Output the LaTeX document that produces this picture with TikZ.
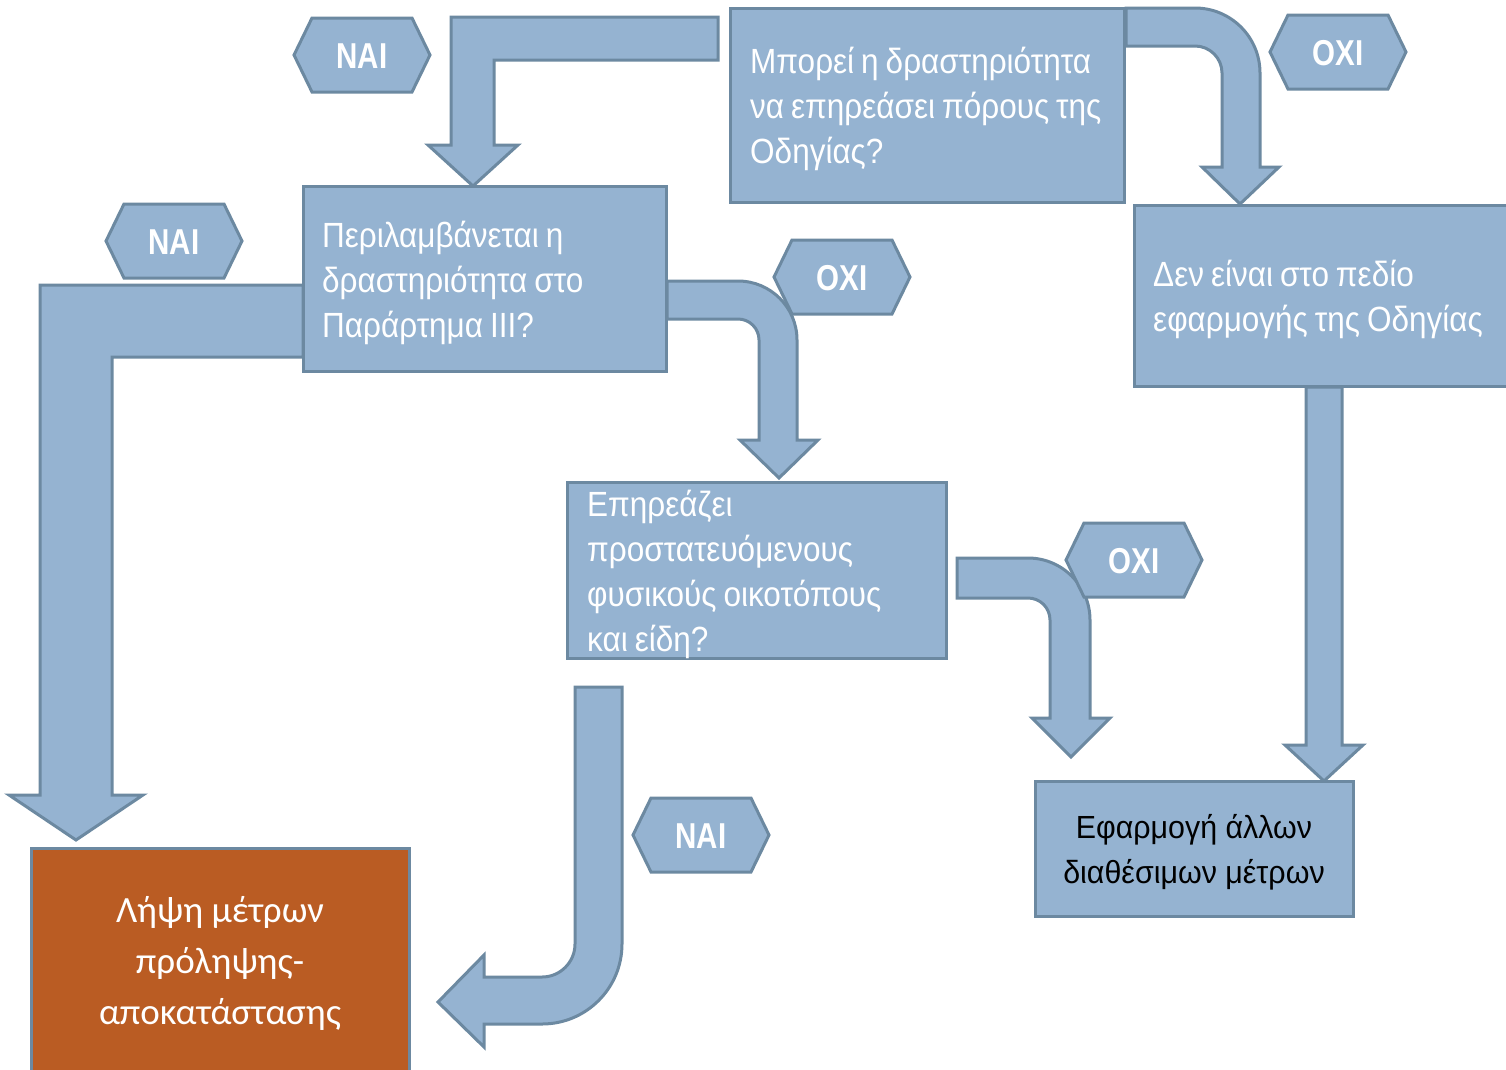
\documentclass[tikz,border=0pt]{standalone}
\usepackage{fontspec}
\setmainfont{Liberation Sans}
\newfontfamily\narrowfont[FakeStretch=0.9,WordSpace=0.8]{Liberation Sans}
\newfontfamily\endfont[FakeStretch=0.95]{Liberation Sans}
\newfontfamily\labfont[FakeStretch=0.82]{Liberation Sans}
\newfontfamily\calfont{Carlito}
\definecolor{blfill}{RGB}{149,179,209}
\definecolor{blline}{RGB}{108,137,161}
\definecolor{orfill}{RGB}{186,92,35}
\newcommand\hexlab[4]{%
  \path[hexshape] (#2-68,#3) -- (#2-50,#3-37) -- (#2+50,#3-37) -- (#2+68,#3) -- (#2+50,#3+37) -- (#2-50,#3+37) -- cycle;
  \node[lab] (#1) at (#2,#3) {#4};}
\begin{document}
\begin{tikzpicture}[x=1pt,y=-1pt,
  blockarrow/.style={fill=blfill,draw=blline,line width=3pt},
  hexshape/.style={fill=blfill,draw=blline,line width=3pt},
  lab/.style={inner sep=0pt,text height=26pt,text depth=0pt,text=white,font=\labfont\bfseries\fontsize{36}{36}\selectfont},
  box/.style={rectangle,fill=blfill,draw=blline,line width=3pt,inner sep=0pt},
  boxtext/.style={text=white,font=\narrowfont\fontsize{35}{45}\selectfont,align=left,inner sep=0pt,anchor=west},
  endbox/.style={rectangle,fill=blfill,draw=blline,line width=3pt,inner sep=0pt},
  endtext/.style={text=black,font=\endfont\fontsize{32}{45}\selectfont,align=center,inner sep=0pt},
  orbox/.style={rectangle,fill=orfill,draw=blline,line width=3pt,inner sep=0pt},
  ortext/.style={text=white,font=\calfont\fontsize{37}{51}\selectfont,align=center,inner sep=0pt}]
\useasboundingbox (0,0) rectangle (1506,1069);
\fill[white] (0,0) rectangle (1506,1069);

% block arrows
% NAI: box1 -> box2
\path[blockarrow] (718,17) -- (451,17) -- (451,145) -- (428,145) -- (473,186) -- (518,145) -- (494,145) -- (494,60) -- (718,60) -- cycle;
% OXI: box1 -> box4
\path[blockarrow] (1126,8) -- (1195,8) .. controls (1230.9,8) and (1260,37.1) .. (1260,73) -- (1260,167) -- (1279,167) -- (1240,204) -- (1202,167) -- (1222,167) -- (1222,73) .. controls (1222,58.1) and (1209.9,46) .. (1195,46) -- (1126,46) -- cycle;
% NAI: box2 -> orange box
\path[blockarrow] (303,285) -- (40,285) -- (40,795) -- (9,795) -- (76,840) -- (143,795) -- (112,795) -- (112,357) -- (303,357) -- cycle;
% OXI: box2 -> box3
\path[blockarrow] (667,281) -- (738,281) .. controls (770.6,281) and (797,307.4) .. (797,340) -- (797,440) -- (818,440) -- (779,478) -- (740,440) -- (759,440) -- (759,340) .. controls (759,328.4) and (749.6,319) .. (738,319) -- (667,319) -- cycle;
% OXI: box3 -> box5
\path[blockarrow] (957,558) -- (1028,558) .. controls (1062.2,558) and (1090,585.8) .. (1090,620) -- (1090,718) -- (1110,718) -- (1071,757) -- (1032,718) -- (1050,718) -- (1050,620) .. controls (1050,607.8) and (1040.2,598) .. (1028,598) -- (957,598) -- cycle;
% box4 -> box5
\path[blockarrow] (1306,387) -- (1306,745) -- (1285,745) -- (1324,781) -- (1363,745) -- (1342,745) -- (1342,387) -- cycle;
% NAI: box3 -> orange box
\path[blockarrow] (575,687) -- (622,687) -- (622,944) .. controls (622,988.2) and (586.2,1024) .. (542,1024) -- (484,1024) -- (484,1047) -- (438,1002) -- (484,955) -- (484,977) -- (542,977) .. controls (560.2,977) and (575,962.2) .. (575,944) -- cycle;

% boxes
\node[box,minimum width=394pt,minimum height=194pt] (b1) at (927,105) {};
\node[boxtext] (t1) at (750,109) {Μπορεί η δραστηριότητα\\να επηρεάσει πόρους της\\Οδηγίας?};
\node[box,minimum width=363pt,minimum height=185pt] (b2) at (484.5,278.5) {};
\node[boxtext] (t2) at (322,282.5) {Περιλαμβάνεται η\\δραστηριότητα στο\\Παράρτημα ΙΙΙ?};
\node[box,minimum width=379pt,minimum height=176pt] (b3) at (756.5,570) {};
\node[boxtext] (t3) at (587,574) {Επηρεάζει\\προστατευόμενους\\φυσικούς οικοτόπους\\και είδη?};
\node[box,minimum width=386pt,minimum height=181pt] (b4) at (1327,295.5) {};
\node[boxtext] (t4) at (1153,299.5) {Δεν είναι στο πεδίο\\εφαρμογής της Οδηγίας};
\node[endbox,minimum width=318pt,minimum height=135pt] (b5) at (1194,848.5) {};
\node[endtext] (t5) at (1194,852.5) {Εφαρμογή άλλων\\διαθέσιμων μέτρων};
\node[orbox,minimum width=378pt,minimum height=230pt] (b6) at (220,963) {};
\node[ortext] (t6) at (220,963) {Λήψη μέτρων\\πρόληψης-\\αποκατάστασης};

% labels
\hexlab{l1}{362}{55}{ΝΑΙ}
\hexlab{l2}{1338}{52}{ΟΧΙ}
\hexlab{l3}{174}{241}{ΝΑΙ}
\hexlab{l4}{842}{277}{ΟΧΙ}
\hexlab{l5}{1134}{560}{ΟΧΙ}
\hexlab{l6}{701}{835}{ΝΑΙ}
\end{tikzpicture}
\end{document}
